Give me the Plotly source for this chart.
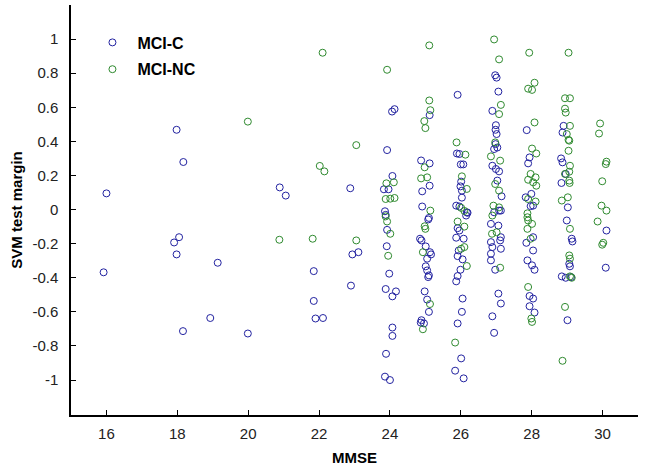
import plotly.graph_objects as go

# MCI-C (converters)
mci_c_mmse = [16.0, 15.92, 17.98, 18.17, 17.91, 18.05, 17.98, 19.14, 18.93, 18.16, 19.99, 20.89, 21.06,
              21.85, 21.85, 21.9, 22.11, 22.88, 22.94, 23.11, 22.9,
              23.92, 24.06, 24.13, 24.07, 23.83, 23.96, 23.86, 23.88, 23.92, 23.91, 23.98, 23.88, 24.17, 24.07,
              24.07, 24.07, 23.89, 23.86, 24.0,
              25.12, 24.88, 25.12, 25.12, 24.91, 24.91, 25.10, 25.08, 24.85, 24.89, 25.01, 25.13, 25.16, 25.05,
              25.01, 25.05, 25.10, 25.08, 24.98, 25.05, 25.10, 24.89, 24.96, 24.87,
              25.91, 25.89, 25.96, 26.0, 26.07, 26.01, 25.99, 26.03, 26.03, 25.87, 25.96, 26.17, 26.19, 26.15,
              25.91, 25.96, 25.87, 26.08, 25.94, 25.91, 26.05, 25.99, 25.91, 25.87, 26.05, 26.03, 25.91, 26.01,
              25.84, 26.08,
              26.97, 27.01, 27.06, 26.89, 26.99, 26.98, 27.01, 26.98, 26.94, 27.03, 26.89, 26.99, 27.08, 27.03,
              27.15, 27.13, 27.08, 26.94, 26.85, 27.06, 27.13, 27.11, 26.85, 27.13, 26.89, 26.85, 26.85, 26.97,
              27.06, 27.13, 26.89, 26.94,
              27.86, 27.94, 27.90, 27.99, 27.83, 28.04, 27.97, 28.04, 27.85, 28.04, 27.88, 28.01, 28.08, 27.94,
              28.04, 27.94, 28.08,
              28.90, 28.87, 28.83, 28.87, 28.96, 28.84, 29.02, 28.99, 29.13, 29.15, 29.06, 29.08, 28.85, 28.96,
              29.11, 29.01,
              30.11, 30.09]
mci_c_margin = [0.095, -0.368, 0.468, 0.279, -0.193, -0.162, -0.263, -0.312, -0.636, -0.713, -0.727, 0.13, 0.082,
                -0.361, -0.536, -0.639, -0.636, 0.125, -0.263, -0.25, -0.446,
                0.349, 0.575, 0.589, 0.197, 0.119, 0.119, -0.01, -0.031, -0.119, -0.215, -0.376, -0.466, -0.48, -0.509,
                -0.692, -0.741, -0.846, -0.98, -1.0,
                0.554, 0.288, 0.271, 0.14, 0.107, 0.018, -0.049, -0.058, -0.171, -0.181, -0.216, -0.25, -0.263, -0.288,
                -0.333, -0.357, -0.386, -0.396, -0.48, -0.528, -0.6, -0.649, -0.668, -0.663,
                0.673, 0.329, 0.326, 0.265, 0.265, 0.164, 0.136, 0.111, 0.07, 0.023, 0.018, -0.016, -0.019, -0.035,
                -0.109, -0.123, -0.165, -0.171, -0.24, -0.273, -0.292, -0.353, -0.39, -0.421, -0.522, -0.6, -0.668, -0.873,
                -0.945, -0.99,
                0.788, 0.774, 0.692, 0.579, 0.495, 0.468, 0.443, 0.384, 0.355, 0.364, 0.257, 0.238, 0.224, 0.17,
                0.078, -0.006, -0.006, -0.016, -0.084, -0.094, -0.162, -0.181, -0.191, -0.23, -0.22, -0.259, -0.298, -0.353,
                -0.493, -0.551, -0.626, -0.723,
                0.466, 0.306, 0.271, 0.092, 0.072, 0.023, 0.02, -0.162, -0.195, -0.24, -0.298, -0.327, -0.353, -0.507,
                -0.522, -0.567, -0.604,
                0.491, 0.452, 0.3, 0.277, 0.209, 0.156, 0.013, -0.064, -0.171, -0.187, -0.318, -0.333, -0.392, -0.4,
                -0.396, -0.649,
                -0.123, -0.341]

# MCI-NC (non-converters)
mci_nc_mmse = [19.99, 20.88, 22.1, 22.02, 22.15, 21.82, 23.05, 23.05,
               23.92, 23.9, 24.11, 23.88, 24.01, 24.13, 23.88, 23.92, 24.01, 23.95,
               25.11, 25.11, 25.14, 24.97, 25.0, 24.98, 24.88, 25.05, 25.14, 24.98, 25.0, 24.93, 25.13, 24.93,
               25.88, 26.13, 26.03, 26.17, 26.01, 26.10, 25.91, 26.10, 26.01, 26.10, 26.17, 25.84,
               26.94, 27.08, 27.13, 27.08, 26.97, 26.85, 27.11, 26.97, 27.08, 26.92, 27.08, 26.89, 26.88, 27.01, 27.11,
               27.93, 28.08, 27.90, 28.01, 28.08, 28.01, 28.13, 27.97, 28.11, 27.90, 28.04, 28.13, 27.90, 28.11,
               27.88, 27.88, 27.90, 28.01, 27.88, 27.97, 27.90, 27.99, 28.01,
               29.04, 28.94, 29.08, 28.94, 28.96, 29.08, 28.99, 29.04, 29.06, 29.04, 29.08, 29.06, 28.94, 29.06,
               29.07, 28.85, 29.02, 29.08, 29.06, 29.08, 29.08, 29.13, 28.94, 28.87,
               29.93, 29.90, 30.11, 30.09, 29.99, 29.97, 30.11, 29.86, 30.02, 29.99]
mci_nc_margin = [0.516, -0.177, 0.92, 0.256, 0.224, -0.171, 0.378, -0.181,
                 0.82, 0.154, 0.16, 0.062, 0.064, 0.068, -0.04, -0.07, -0.142, -0.271,
                 0.963, 0.64, 0.583, 0.519, 0.478, 0.248, 0.183, 0.189, -0.006, -0.098, -0.113, -0.25, -0.554, -0.702,
                 0.394, 0.322, 0.195, 0.121, 0.01, -0.008, -0.07, -0.1, -0.23, -0.22, -0.331, -0.78,
                 0.998, 0.881, 0.614, 0.56, 0.394, 0.312, 0.287, 0.15, 0.111, 0.023, 0.013, -0.035, -0.142, -0.133, -0.341,
                 0.92, 0.744, 0.709, 0.702, 0.511, 0.358, 0.329, 0.209, 0.189, 0.175, 0.16, 0.14, 0.062, 0.047,
                 -0.022, -0.045, -0.064, -0.084, -0.113, -0.171, -0.454, -0.639, -0.659,
                 0.92, 0.653, 0.653, 0.592, 0.569, 0.491, 0.443, 0.409, 0.404, 0.345, 0.257, 0.222, 0.209, 0.17,
                 0.156, 0.053, 0.072, -0.113, -0.269, -0.288, -0.392, -0.4, -0.571, -0.887,
                 0.505, 0.446, 0.281, 0.267, 0.166, 0.023, -0.006, -0.07, -0.195, -0.206]

x_ticks = [16, 18, 20, 22, 24, 26, 28, 30]
y_ticks = [-1, -0.8, -0.6, -0.4, -0.2, 0, 0.2, 0.4, 0.6, 0.8, 1]
y_tick_text = ["-1", "-0.8", "-0.6", "-0.4", "-0.2", "0", "0.2", "0.4", "0.6", "0.8", "1"]

BLUE = "#2222a0"
GREEN = "#2f8a2f"

fig = go.Figure()
fig.add_trace(go.Scatter(x=mci_c_mmse, y=mci_c_margin, mode="markers", name="MCI-C",
                         legendgroup="a",
                         marker=dict(symbol="circle-open", size=7, color=BLUE, line=dict(width=1, color=BLUE))))
fig.add_trace(go.Scatter(x=mci_nc_mmse, y=mci_nc_margin, mode="markers", name="MCI-NC",
                         legendgroup="b",
                         marker=dict(symbol="circle-open", size=7, color=GREEN, line=dict(width=1, color=GREEN))))

FONT = "Liberation Sans, Arial, sans-serif"
axis_font = dict(family=FONT, size=15, color="#222")
fig.update_layout(
    width=645, height=471,
    margin=dict(l=71, r=7, t=5, b=56),
    paper_bgcolor="white", plot_bgcolor="white",
    showlegend=True,
    legend=dict(x=0.029, y=0.95, xanchor="left", yanchor="top",
                bgcolor="rgba(0,0,0,0)", borderwidth=0, itemwidth=40,
                font=dict(family=FONT, size=16, color="black", weight="bold"),
                tracegroupgap=3, traceorder="grouped"),
    xaxis=dict(range=[15, 31], tickvals=x_ticks, showgrid=False, zeroline=False,
               showline=True, linecolor="black", linewidth=1.5, mirror=False,
               ticks="inside", ticklen=5, tickcolor="black", tickfont=axis_font,
               ticklabelstandoff=4,
               title=dict(text="<b>MMSE</b>", font=dict(family=FONT, size=15, color="black"),
                          standoff=12)),
    yaxis=dict(range=[-1.205, 1.2], tickvals=y_ticks, ticktext=y_tick_text, showgrid=False, zeroline=False,
               showline=True, linecolor="black", linewidth=1.5, mirror=False,
               ticks="inside", ticklen=5, tickcolor="black", tickfont=axis_font,
               ticklabelstandoff=8,
               title=dict(text="<b>SVM test margin</b>", font=dict(family=FONT, size=15, color="black"),
                          standoff=6)),
)

fig.write_html("out.html", config={"displayModeBar": False},
               post_script="document.body.style.margin='0';document.body.style.padding='0';")
